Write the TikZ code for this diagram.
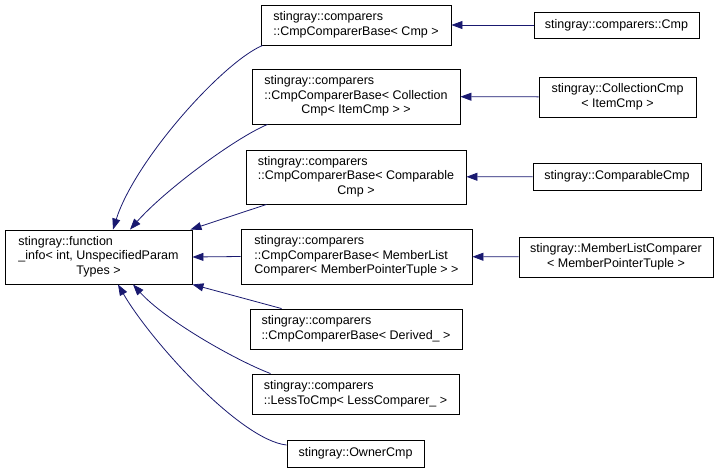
\documentclass[tikz,border=0pt]{standalone}
\usepackage{fontspec}
\setmainfont{Liberation Sans}
\usepackage{tikz}
\usetikzlibrary{arrows.meta}
\definecolor{edgeblue}{HTML}{191970}
\newcommand{\boxlines}[1]{\begin{tabular}{@{}l@{}}#1\end{tabular}}
\newcommand{\ctrline}[1]{\multicolumn{1}{@{}c@{}}{#1}}
\tikzset{cls/.style={draw=black, line width=0.9pt, fill=white, inner sep=0pt,
   font=\fontsize{12.5}{14.5}\selectfont},
 edge/.style={draw=edgeblue, line width=0.8pt, -{Triangle[length=11pt,width=8pt]}},
 }

\begin{document}
\begin{tikzpicture}[x=1pt, y=-1pt]
        \useasboundingbox (0,0) rectangle (720,472);

        % base class
        \node[cls, minimum width=187pt, minimum height=54pt] (base) at (98.5,257)
            {\boxlines{stingray::function\\ \_info< int, UnspecifiedParam\\ \ctrline{Types >}}};

        % middle column
        \node[cls, minimum width=190pt, minimum height=40pt] (b1) at (356,25)
            {\boxlines{stingray::comparers\\ ::CmpComparerBase< Cmp >}};
        \node[cls, minimum width=208pt, minimum height=55pt] (b2) at (356,96.5)
            {\boxlines{stingray::comparers\\ ::CmpComparerBase< Collection\\ \ctrline{Cmp< ItemCmp > >}}};
        \node[cls, minimum width=220pt, minimum height=54pt] (b3) at (356,177)
            {\boxlines{stingray::comparers\\ ::CmpComparerBase< Comparable\\ \ctrline{Cmp >}}};
        \node[cls, minimum width=231pt, minimum height=55pt] (b4) at (356.5,256.5)
            {\boxlines{stingray::comparers\\ ::CmpComparerBase< MemberList\\ Comparer< MemberPointerTuple > >}};
        \node[cls, minimum width=212pt, minimum height=40pt] (b5) at (356,329)
            {\boxlines{stingray::comparers\\ ::CmpComparerBase< Derived\_ >}};
        \node[cls, minimum width=207pt, minimum height=40pt] (b6) at (355.5,394)
            {\boxlines{stingray::comparers\\ ::LessToCmp< LessComparer\_ >}};
        \node[cls, minimum width=137pt, minimum height=27pt] (b7) at (355.5,453.5)
            {stingray::OwnerCmp};

        % right column
        \node[cls, minimum width=165pt, minimum height=26pt] (r1) at (616.5,25)
            {stingray::comparers::Cmp};
        \node[cls, minimum width=157pt, minimum height=40pt] (r2) at (617.5,97)
            {\boxlines{\ctrline{stingray::CollectionCmp}\\ \ctrline{< ItemCmp >}}};
        \node[cls, minimum width=168pt, minimum height=27pt] (r3) at (617,176.5)
            {stingray::ComparableCmp};
        \node[cls, minimum width=194pt, minimum height=40pt] (r4) at (616,257)
            {\boxlines{\ctrline{stingray::MemberListComparer}\\ \ctrline{< MemberPointerTuple >}}};

        \foreach \a/\b in {r1/b1, r2/b2, r3/b3, r4/b4} {
            \draw[edge] (\a) -- (\b);
        }

        \draw[edge] ([xshift=2pt]b1.south west) .. controls (223,62) and (135,160) .. ([xshift=14.5pt]base.north);
        \draw[edge] ([xshift=16pt]b2.south west) .. controls (235,138) and (165,190) .. ([xshift=31.5pt]base.north);
        \draw[edge] ([xshift=21pt]b3.south west) -- ([xshift=-2pt]base.north east);
        \draw[edge] (b4.west) -- (base.east);
        \draw[edge] ([xshift=32pt]b5.north west) -- (base.south east);
        \draw[edge] ([xshift=19pt]b6.north west) .. controls (235,360) and (165,320) .. ([xshift=34.5pt]base.south);
        \draw[edge] ([yshift=8.5pt]b7.west) .. controls (240,440) and (150,340) .. ([xshift=19.5pt]base.south);
    \end{tikzpicture}
\end{document}
